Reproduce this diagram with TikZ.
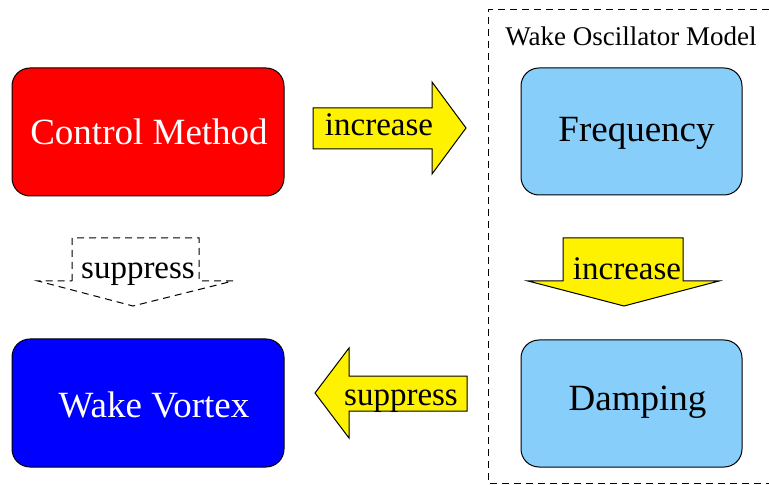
\documentclass[tikz,border=0pt]{standalone}
\usepackage{fontspec}
\setmainfont{Liberation Serif}
\usepackage{tikz}
\usetikzlibrary{positioning}
\definecolor{skyblue}{RGB}{135,206,250}
\tikzset
{
  box/.style      = {rectangle, rounded corners=9pt, draw=black, line width=0.5pt, minimum width=136pt, minimum height=64pt},
  model/.style    = {box, fill=skyblue, minimum width=110.5pt, minimum height=63.5pt},
  boxtext/.style  = {inner sep=0pt, font=\fontsize{18.5}{22}\selectfont},
  blockarrow/.style = {draw=black, fill=yellow, line width=0.5pt},
  ghostarrow/.style = {draw=black, line width=0.5pt, dash pattern=on 3.5pt off 2.5pt},
  arrowtext/.style  = {inner sep=0pt, font=\fontsize{16.5}{20}\selectfont}
}
\begin{document}
\begin{tikzpicture}[x=0.5pt,y=-0.5pt]
  \useasboundingbox (0,0) rectangle (769,485);
  % model frame, open on the right
  \draw[ghostarrow] (769,10) -- (488,10) -- (488,483) -- (769,483);
  \node[font=\fontsize{13.5}{16}\selectfont] (title) at (631,36) {Wake Oscillator Model};
  % boxes
  \node[box, fill=red] (control) at (148,132) {};
  \node[box, fill=blue] (vortex) at (148,403) {};
  \node[model] (freq) at (631.5,131.5) {};
  \node[model] (damp) at (631.5,403.5) {};
  \node[boxtext, text=white] (controltext) at ([xshift=0.5pt]control) {Control Method};
  \node[boxtext, text=white] (vortextext) at ([xshift=3pt,yshift=-0.75pt]vortex) {Wake Vortex};
  \node[boxtext] (freqtext) at ([xshift=2.5pt,yshift=-1pt]freq) {Frequency};
  \node[boxtext] (damptext) at ([xshift=3pt,yshift=0.75pt]damp) {Damping};
  % block arrows
  \draw[blockarrow] (313,108) -- (432,108) -- (432,82) -- (466,128) -- (432,174) -- (432,149) -- (313,149) -- cycle;
  \node[arrowtext] (inc1) at (379,125) {increase};
  \draw[blockarrow] (563,238) -- (683,238) -- (683,281) -- (719,281) -- (624,306) -- (528,281) -- (563,281) -- cycle;
  \node[arrowtext] (inc2) at (627,269) {increase};
  \draw[blockarrow] (467,376) -- (349,376) -- (349,348) -- (315,393) -- (349,438) -- (349,411) -- (467,411) -- cycle;
  \node[arrowtext] (sup1) at (401,401) {suppress};
  \draw[ghostarrow] (72,281) -- (72,238) -- (199,238) -- (199,281) -- (233,281) -- (133,306) -- (38,281) -- cycle;
  \node[arrowtext] (sup2) at (138,274) {suppress};
\end{tikzpicture}
\end{document}
